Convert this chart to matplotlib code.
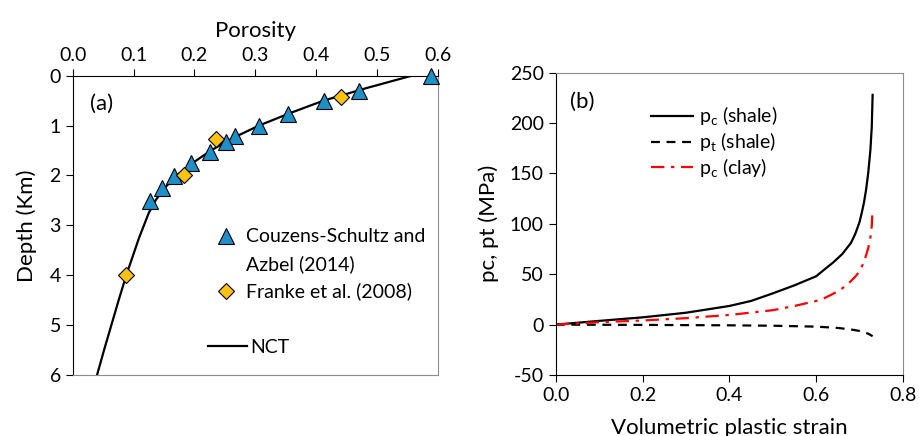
import numpy as np
import matplotlib
matplotlib.use("Agg")
import matplotlib.pyplot as plt
from matplotlib.lines import Line2D

plt.rcParams['font.family'] = ['Lato', 'DejaVu Sans']
plt.rcParams['mathtext.fontset'] = 'custom'
plt.rcParams['mathtext.rm'] = 'Lato'
plt.rcParams['axes.unicode_minus'] = False

# (a) porosity vs depth
cs_por = [0.589, 0.470, 0.412, 0.354, 0.306, 0.267, 0.251, 0.225, 0.195, 0.166, 0.147, 0.127]
cs_depth = [0.0, 0.30, 0.50, 0.77, 1.01, 1.21, 1.32, 1.52, 1.76, 2.01, 2.26, 2.51]
fr_por = [0.440, 0.235, 0.183, 0.088]
fr_depth = [0.42, 1.26, 2.00, 4.00]
nct_depth = [0.0, 0.25, 0.5, 0.75, 1.0, 1.25, 1.5, 1.75, 2.0, 2.25, 2.5, 2.75, 3.0,
             3.25, 3.5, 3.75, 4.0, 4.5, 5.0, 5.5, 6.0]
nct_por = [0.557, 0.482, 0.412, 0.357, 0.306, 0.263, 0.227, 0.197, 0.171, 0.151, 0.136,
           0.125, 0.117, 0.109, 0.102, 0.095, 0.088, 0.0755, 0.0635, 0.0515, 0.040]

# (b) hardening curves
eps_shale = [0.0, 0.1, 0.2, 0.3, 0.4, 0.45, 0.5, 0.55, 0.6, 0.617, 0.64, 0.66, 0.68,
             0.69, 0.70, 0.705, 0.71, 0.715, 0.72, 0.725, 0.728, 0.73]
pc_shale = [0.0, 3.7, 7.2, 11.8, 18.5, 23.5, 31.0, 39.0, 48.0, 54.0, 62.0, 70.0, 81.0,
            90.0, 102.0, 111.0, 121.0, 134.0, 151.0, 174.0, 196.0, 228.0]
eps_pt = [0.0, 0.2, 0.4, 0.5, 0.6, 0.65, 0.68, 0.70, 0.72, 0.73]
pt_shale = [0.0, -0.3, -0.7, -1.1, -2.0, -3.3, -4.8, -6.3, -9.0, -11.5]
eps_clay = [0.0, 0.1, 0.2, 0.3, 0.4, 0.5, 0.55, 0.6, 0.62, 0.65, 0.67, 0.69, 0.70,
            0.71, 0.72, 0.725, 0.728, 0.73]
pc_clay = [0.0, 2.4, 4.1, 6.4, 9.6, 14.3, 18.5, 23.5, 26.5, 33.0, 39.0, 47.5, 53.0,
           62.0, 76.0, 87.0, 98.0, 115.0]

fig = plt.figure(figsize=(9.19, 4.36), dpi=100)
ax1 = fig.add_axes([0.0791, 0.1399, 0.3975, 0.6865])
ax2 = fig.add_axes([0.6047, 0.1399, 0.3779, 0.6934])

tick_fs = 14
lab_fs = 16
leg_fs = 14
grey = '#8c8c8c'
blue = '#1f8fc8'
gold = '#ffc20e'

# panel a
ax1.plot(nct_por, nct_depth, color='black', lw=1.6, zorder=2)
ax1.plot(cs_por, cs_depth, ls='none', marker='^', ms=11, mfc=blue, mec='black',
         mew=0.8, clip_on=False, zorder=3)
ax1.plot(fr_por, fr_depth, ls='none', marker='D', ms=8.5, mfc=gold, mec='black',
         mew=0.8, clip_on=False, zorder=3)
ax1.set_xlim(0, 0.6)
ax1.set_ylim(6, 0)
ax1.xaxis.tick_top()
ax1.xaxis.set_label_position('top')
ax1.set_xticks(np.arange(0, 0.61, 0.1))
ax1.set_xticklabels(['%.1f' % v for v in np.arange(0, 0.61, 0.1)])
ax1.set_yticks(range(0, 7))
ax1.set_xlabel('Porosity', fontsize=lab_fs, labelpad=7)
ax1.set_ylabel('Depth (Km)', fontsize=lab_fs, labelpad=9)
ax1.tick_params(direction='out', length=5, labelsize=tick_fs, top=True, bottom=False)
ax1.spines['right'].set_color(grey)
ax1.spines['bottom'].set_color(grey)
ax1.text(0.047, 0.905, '(a)', transform=ax1.transAxes, fontsize=lab_fs, va='center')

# legend rows: second line of the first label gets an empty key
h1 = [Line2D([], [], ls='none', marker='^', ms=11, mfc=blue, mec='black', mew=0.8),
      Line2D([], [], ls='none'),
      Line2D([], [], ls='none', marker='D', ms=8.5, mfc=gold, mec='black', mew=0.8)]
leg1 = ax1.legend(h1, ['Couzens-Schultz and', 'Azbel (2014)', 'Franke et al. (2008)'],
                  loc='upper left', bbox_to_anchor=(0.392, 0.49), frameon=False,
                  fontsize=leg_fs, handlelength=1.0, handletextpad=0.55, labelspacing=0.5,
                  borderpad=0, borderaxespad=0)
ax1.add_artist(leg1)
h2 = [Line2D([], [], color='black', lw=1.6)]
ax1.legend(h2, ['NCT'], loc='center left', bbox_to_anchor=(0.370, 0.092), frameon=False,
           fontsize=leg_fs, handlelength=2.0, handletextpad=0.2, borderpad=0,
           borderaxespad=0)

# panel b
ax2.plot(eps_shale, pc_shale, color='black', lw=1.6, label=r'$\mathregular{p_c}$ (shale)')
ax2.plot(eps_pt, pt_shale, color='black', lw=1.6, ls=(0, (4, 3)),
         label=r'$\mathregular{p_t}$ (shale)')
ax2.plot(eps_clay, pc_clay, color='#ff0000', lw=1.6, ls=(0, (6, 3, 1.5, 3)),
         label=r'$\mathregular{p_c}$ (clay)')
ax2.set_xlim(0, 0.8)
ax2.set_ylim(-50, 250)
ax2.set_xticks(np.arange(0, 0.81, 0.2))
ax2.set_xticklabels(['%.1f' % v for v in np.arange(0, 0.81, 0.2)])
ax2.set_yticks(range(-50, 251, 50))
ax2.set_xlabel('Volumetric plastic strain', fontsize=lab_fs, labelpad=10)
ax2.set_ylabel('pc, pt (MPa)', fontsize=lab_fs, labelpad=8)
ax2.tick_params(direction='out', length=5, labelsize=tick_fs)
ax2.spines['right'].set_color(grey)
ax2.spines['top'].set_color(grey)
ax2.text(0.042, 0.905, '(b)', transform=ax2.transAxes, fontsize=lab_fs, va='center')
ax2.legend(loc='upper left', bbox_to_anchor=(0.2735, 0.895), frameon=False, fontsize=leg_fs,
           handlelength=2.2, handletextpad=0.3, labelspacing=0.15, borderpad=0,
           borderaxespad=0)

fig.savefig('out.png', dpi=100)
